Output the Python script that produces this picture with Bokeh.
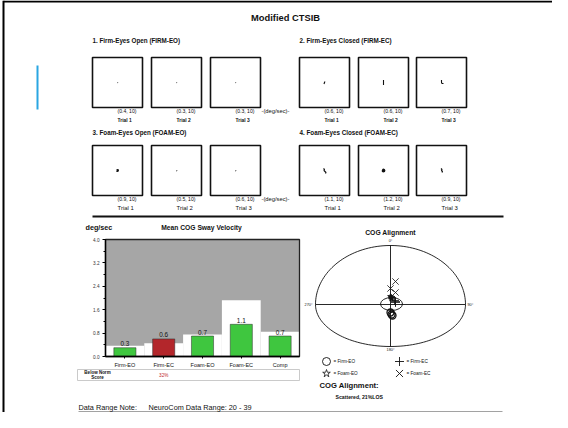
import numpy as np
from bokeh.plotting import figure
from bokeh.models import Range1d, LinearAxis, FixedTicker, SingleIntervalTicker, PrintfTickFormatter
from bokeh.core.properties import value
from bokeh.embed import file_html
from bokeh.resources import INLINE

# ---------------- data ----------------
page_title = "Modified CTSIB"
panel_titles = ["1. Firm-Eyes Open (FIRM-EO)", "2. Firm-Eyes Closed (FIRM-EC)",
                "3. Foam-Eyes Open (FOAM-EO)", "4. Foam-Eyes Closed (FOAM-EC)"]
trial_labels = ["Trial 1", "Trial 2", "Trial 3"]
firm_eo_trials = [0.4, 0.3, 0.3]
firm_ec_trials = [0.6, 0.6, 0.7]
foam_eo_trials = [0.9, 0.5, 0.6]
foam_ec_trials = [1.1, 1.2, 0.9]
trial_seconds = [10, 10, 10]
# sway traces inside the trial boxes (offsets from box centre)
sway_dx = [
    [[0, 0.5], [0, 0.5], [0, 0.5]],
    [[-0.5, 0, 0.5], [0, 0, 0], [0, 0, 0.5, 2]],
    [[-0.8, 0.2, 0.8, -0.2, -0.8], [0, 0.6], [0, 0.6]],
    [[-1, 0, -0.5, 0.5, 1.5, 1], [-1, 0.5, 1, -0.5, -1, 0.5], [-0.5, 0.5, 0, 1, 0.5]],
]
sway_dy = [
    [[0, 0.3], [0, 0.3], [0, 0.3]],
    [[1.5, 0, -1], [-2.5, 0, 2.5], [-2.5, 0, 1, 1]],
    [[0, -0.6, 0, 0.6, 0], [0, 0.4], [0, 0.4]],
    [[-2, -1, 0, 1, 2, 3], [-0.5, -1, 0.5, 1, 0, -0.5], [-2, -1, 0, 1, 2]],
]
sway_width = [[1.2, 1.2, 1.2], [1.1, 1.1, 1.1], [2.0, 1.2, 1.2], [1.1, 2.0, 1.1]]
conditions = ["Firm-EO", "Firm-EC", "Foam-EO", "Foam-EC", "Comp"]
sway_velocity = [0.3, 0.6, 0.7, 1.1, 0.7]
norm_upper = [0.37, 0.45, 0.75, 1.92, 0.85]
below_norm = ["", "32%", "", "", ""]
bar_colors = ["#3fc63f", "#b3262b", "#3fc63f", "#3fc63f", "#3fc63f"]
vel_max = 4.0
vel_tick = 0.8
# COG alignment (x: right, y: forward)
cog_firm_eo_x = [0, 1, 2]
cog_firm_eo_y = [-8, -10, -11]
cog_firm_ec_x = [5, 5, 4]
cog_firm_ec_y = [2, 3, 4]
cog_foam_eo_x = [1, 1, 0]
cog_foam_eo_y = [6, 7, 8]
cog_foam_ec_x = [5, 0, 5]
cog_foam_ec_y = [23, 16, 12]
cog_ellipse = (1, 0.5, 22, 13)  # cx, cy, width, height
los_lateral, los_forward, los_backward = 75, 59, 42
cog_summary = "Scattered, 21%LOS"
data_range_label = "Data Range Note:"
data_range_text = "NeuroCom Data Range: 20 - 39"

# ---------------- layout ----------------
FONT = "Liberation Sans"
S = 0.85
W, H = 552, 412
X0, Y0 = 8, 8
p = figure(width=W, height=H, x_range=Range1d(X0, X0 + W), y_range=Range1d(Y0 + H, Y0),
           output_backend="svg", toolbar_location=None, tools="", min_border=0,
           x_axis_location=None, y_axis_location=None, outline_line_color=None)
p.grid.grid_line_color = None

BAR_L, BAR_R, BAR_T, BAR_B = 113, 307, 247, 364
CAT_W = (BAR_R - BAR_L) / len(conditions)
PXV = (BAR_B - BAR_T) / vel_max
COG_X, COG_Y = 398, 312
p.extra_x_ranges = {
    "bx": Range1d(-0.5 + (X0 - BAR_L) / CAT_W, -0.5 + (X0 + W - BAR_L) / CAT_W),
    "ax": Range1d(X0 - COG_X, X0 + W - COG_X),
}
p.extra_y_ranges = {
    "vy": Range1d((BAR_B - (Y0 + H)) / PXV, (BAR_B - Y0) / PXV),
    "ay": Range1d(COG_Y - (Y0 + H), COG_Y - Y0),
}


def txt(x, y, s, size, bold=False, align="left", color="#111111", baseline="middle", **kw):
    xs = x if isinstance(x, (list, np.ndarray)) else [x]
    ys = y if isinstance(y, (list, np.ndarray)) else [y]
    ss = s if isinstance(s, list) else [s]
    p.text(x=xs, y=ys, text=ss, text_font=value(FONT), text_font_size=value(f"{size * S:.2f}px"),
           text_font_style="bold" if bold else "normal", text_align=align,
           text_baseline=baseline, text_color=color, **kw)


# page frame
p.line([11, 11], [Y0, Y0 + H], line_color="black", line_width=2)
p.line([11, X0 + W], [9, 9], line_color="black", line_width=2)
p.line([45, 45], [73, 117], line_color="#2aa6e2", line_width=2)
txt(293, 25, page_title, 11, bold=True, align="center")

# trial boxes
group_left = [[100, 159, 218], [307, 366, 424]]
row_top = [65, 153]
BOX = 50
trials = [firm_eo_trials, firm_ec_trials, foam_eo_trials, foam_ec_trials]
for k in range(4):
    g, r = k % 2, k // 2
    top = row_top[r]
    txt(group_left[g][0], top - 17 + (4 if r else 0), panel_titles[k], 7.4, bold=True)
    lefts = np.array(group_left[g])
    p.quad(left=lefts, right=lefts + BOX, top=[top] * 3, bottom=[top + BOX] * 3,
           fill_color="white", line_color="#111111", line_width=1.6)
    cx = lefts + BOX / 2
    cy = top + BOX / 2
    for t in range(3):
        xs = cx[t] + np.array(sway_dx[k][t])
        ys = cy + np.array(sway_dy[k][t])
        p.line(xs, ys, line_color="#111111", line_width=sway_width[k][t])
    labels = [f"({v}, {d})" for v, d in zip(trials[k], trial_seconds)]
    txt(list(cx), [top + BOX + 3] * 3, labels, 6)
    if r == 0:
        txt(list(cx), [top + BOX + 13] * 3, trial_labels, 5.8, bold=True)
    else:
        txt(list(cx), [top + BOX + 12] * 3, trial_labels, 7)
    if g == 0:
        txt(269, top + BOX + 3, "-(deg/sec)-", 6.8)

# separator
p.line([100, 511], [224, 224], line_color="#111111", line_width=2)

# ---------- bar chart ----------
txt(93, 235, "deg/sec", 8.5, bold=True)
txt(209, 235, "Mean COG Sway Velocity", 7.9, bold=True, align="center")
idx = np.arange(len(conditions))
bk = dict(x_range_name="bx", y_range_name="vy")
p.quad(left=[-0.5], right=[len(conditions) - 0.5], bottom=[0], top=[vel_max],
       fill_color="#a6a6a6", line_color=None, **bk)
p.quad(left=idx - 0.5, right=idx + 0.5, bottom=0, top=norm_upper,
       fill_color="white", line_color=None, **bk)
p.vbar(x=idx, width=0.57, bottom=0, top=sway_velocity, fill_color=bar_colors,
       line_color="#2b2b2b", line_width=0.5, **bk)
p.quad(left=[-0.5], right=[len(conditions) - 0.5], bottom=[0], top=[vel_max],
       fill_color=None, line_color="#222222", line_width=1.3, **bk)
txt(list(idx), [v + 0.05 for v in sway_velocity], [f"{v:.1f}" for v in sway_velocity],
    7.5, align="center", baseline="bottom", color="#111111", **bk)

yax = LinearAxis(y_range_name="vy", fixed_location=BAR_L, bounds=(0, vel_max),
                 ticker=SingleIntervalTicker(interval=vel_tick, num_minor_ticks=2),
                 formatter=PrintfTickFormatter(format="%.1f"))
yax.major_tick_in = 0
yax.major_tick_out = 3
yax.minor_tick_in = 0
yax.minor_tick_out = 2
yax.axis_line_width = 1.4
yax.major_label_text_font = FONT
yax.major_label_text_font_size = f"{5.5 * S:.2f}px"
yax.major_label_text_color = "#333333"
yax.major_label_standoff = 3
p.add_layout(yax, "left")

xax = LinearAxis(x_range_name="bx", fixed_location=BAR_B, bounds=(-0.5, len(conditions) - 0.5),
                 ticker=FixedTicker(ticks=[float(i) for i in idx]),
                 major_label_overrides={float(i): c for i, c in enumerate(conditions)})
xax.major_tick_in = 0
xax.major_tick_out = 2
xax.axis_line_width = 1.4
xax.major_label_text_font = FONT
xax.major_label_text_font_size = f"{6.5 * S:.2f}px"
xax.major_label_text_color = "#111111"
xax.major_label_standoff = 3
p.add_layout(xax, "below")

# below-norm table
p.quad(left=[85], right=[307], top=[377], bottom=[388], fill_color=None,
       line_color="#bdbdbd", line_width=0.8)
txt(105, 379.5, "Below Norm", 5.3, bold=True, align="center")
txt(105, 385, "Score", 5.3, bold=True, align="center")
txt(list(idx), [382.5] * len(idx), below_norm, 5.5, align="center", color="#c0282e",
    x_range_name="bx")

# ---------- COG alignment ----------
txt(398, 240, "COG Alignment", 8, bold=True, align="center")
ak = dict(x_range_name="ax", y_range_name="ay")
t = np.linspace(0, np.pi, 80)
ex = np.concatenate([los_lateral * np.cos(t), los_lateral * np.cos(t + np.pi)])
ey = np.concatenate([los_forward * np.sin(t), los_backward * np.sin(t + np.pi)])
p.line(np.append(ex, ex[0]), np.append(ey, ey[0]), line_color="#111111", line_width=0.9, **ak)
p.line([-los_lateral, los_lateral], [0, 0], line_color="#111111", line_width=0.9, **ak)
p.line([0, 0], [los_forward, -los_backward], line_color="#111111", line_width=0.9, **ak)
txt(0, los_forward + 3, "0°", 4.5, align="center", baseline="bottom", **ak)
txt(los_lateral + 2, 0, "90°", 4.5, **ak)
txt(-los_lateral - 3, 0, "270°", 4.5, align="right", **ak)
txt(0, -los_backward - 1, "180°", 4.5, align="center", baseline="top", **ak)
ecx, ecy, ew, eh = cog_ellipse
p.ellipse(x=[ecx], y=[ecy], width=[ew], height=[eh], fill_color=None,
          line_color="#111111", line_width=0.9, **ak)
p.scatter(cog_firm_eo_x, cog_firm_eo_y, marker="circle", size=7, fill_color=None,
          line_color="#111111", line_width=1.3, **ak)
p.scatter(cog_firm_ec_x, cog_firm_ec_y, marker="cross", size=9,
          line_color="#111111", line_width=0.8, **ak)
p.scatter(cog_foam_eo_x, cog_foam_eo_y, marker="star", size=6, fill_color="#111111",
          line_color="#111111", line_width=0.8, **ak)
p.scatter(cog_foam_ec_x, cog_foam_ec_y, marker="x", size=9,
          line_color="#111111", line_width=0.8, **ak)

# legend
p.scatter([334], [369], marker="circle", size=8, fill_color=None, line_color="#111111", line_width=0.9)
p.scatter([407], [369], marker="cross", size=9, line_color="#111111", line_width=0.9)
p.scatter([334], [381], marker="star", size=8, fill_color=None, line_color="#111111", line_width=0.8)
p.scatter([407], [381], marker="x", size=10, line_color="#111111", line_width=0.9)
txt([341, 414, 341, 414], [369, 369, 381, 381],
    ["= Firm-EO", "= Firm-EC", "= Foam-EO", "= Foam-EC"], 5.5)
txt(327, 393, "COG Alignment:", 9, bold=True)
txt(343, 404, cog_summary, 6.1, bold=True)

# footer
txt(86, 415, data_range_label, 8.6)
txt(156, 415, data_range_text, 8.6)
p.line([86, 510], [419.5, 419.5], line_color="#444444", line_width=1)

open("out.html", "w").write(file_html(p, INLINE))
